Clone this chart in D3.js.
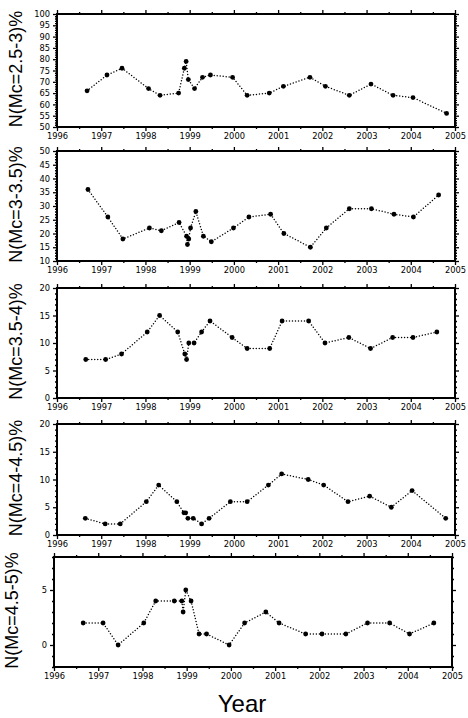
<!DOCTYPE html>
<html>
<head>
<meta charset="utf-8">
<script src="https://cdn.jsdelivr.net/npm/d3@7"></script>
<style>
  body { margin: 0; background: #fff; }
  .tick text { font-family: "DejaVu Sans", sans-serif; font-size: 8.3px; fill: #000; }
</style>
</head>
<body>
<div id="wrapper"></div>
<script>
// 0. Data (decimal year, percent)
const years = [1996, 1997, 1998, 1999, 2000, 2001, 2002, 2003, 2004, 2005]

const dates1 = [1996.68, 1997.13, 1997.47, 1998.07, 1998.33, 1998.75, 1998.88, 1998.92, 1998.97, 1999.11, 1999.29, 1999.47,
  1999.97, 2000.30, 2000.80, 2001.12, 2001.72, 2002.07, 2002.61, 2003.10, 2003.60, 2004.05, 2004.81]
const n25_3 = [66, 73, 76, 67, 64, 65, 76, 79, 71, 67, 72, 73, 72, 64, 65, 68, 72, 68, 64, 69, 64, 63, 56]

const dates2 = [1996.70, 1997.15, 1997.49, 1998.09, 1998.36, 1998.76, 1998.93, 1998.95, 1998.98, 1999.02, 1999.14, 1999.31,
  1999.49, 1999.99, 2000.34, 2000.83, 2001.13, 2001.73, 2002.09, 2002.61, 2003.11, 2003.62, 2004.06, 2004.63]
const n3_35 = [36, 26, 18, 22, 21, 24, 19, 16, 18, 22, 28, 19, 17, 22, 26, 27, 20, 15, 22, 29, 29, 27, 26, 34]

const dates3 = [1996.65, 1997.10, 1997.46, 1998.04, 1998.32, 1998.73, 1998.89, 1998.93, 1998.98, 1999.10, 1999.27, 1999.46,
  1999.96, 2000.30, 2000.81, 2001.09, 2001.69, 2002.06, 2002.60, 2003.09, 2003.59, 2004.05, 2004.59]
const n35_4 = [7, 7, 8, 12, 15, 12, 8, 7, 10, 10, 12, 14, 11, 9, 9, 14, 14, 10, 11, 9, 11, 11, 12]

const dates4 = [1996.64, 1997.09, 1997.43, 1998.02, 1998.30, 1998.71, 1998.87, 1998.91, 1998.96, 1999.08, 1999.27, 1999.44,
  1999.92, 2000.30, 2000.78, 2001.08, 2001.68, 2002.03, 2002.58, 2003.07, 2003.56, 2004.03, 2004.79]
const n4_45 = [3, 2, 2, 6, 9, 6, 4, 4, 3, 3, 2, 3, 6, 6, 9, 11, 10, 9, 6, 7, 5, 8, 3]

const dates5 = [1996.66, 1997.11, 1997.45, 1998.03, 1998.30, 1998.72, 1998.89, 1998.92, 1998.98, 1999.10, 1999.28, 1999.45,
  1999.96, 2000.31, 2000.79, 2001.09, 2001.69, 2002.06, 2002.60, 2003.09, 2003.59, 2004.04, 2004.59]
const n45_5 = [2, 2, 0, 2, 4, 4, 4, 3, 5, 4, 1, 1, 0, 2, 3, 2, 1, 1, 1, 2, 2, 1, 2]

const titles = ["N(Mc=2.5-3)%", "N(Mc=3-3.5)%", "N(Mc=3.5-4)%", "N(Mc=4-4.5)%", "N(Mc=4.5-5)%"]
const yDomains = [[50, 100], [10, 50], [0, 20], [0, 20], [-2, 8]]
const yTicks = [d3.range(50, 101, 5), d3.range(10, 51, 5), [0, 5, 10, 15, 20], [0, 5, 10, 15, 20], [0, 5]]

// layout of the five frames
const frames = [
  { left: 57, right: 455, top: 14, bottom: 127, titleX: 22 },
  { left: 57, right: 455, top: 151, bottom: 261, titleX: 22 },
  { left: 57, right: 455, top: 288, bottom: 398, titleX: 22 },
  { left: 57, right: 455, top: 424, bottom: 535, titleX: 22 },
  { left: 54, right: 452, top: 557, bottom: 667, titleX: 18 },
]

const panels = [
  { dates: dates1, values: n25_3 },
  { dates: dates2, values: n3_35 },
  { dates: dates3, values: n35_4 },
  { dates: dates4, values: n4_45 },
  { dates: dates5, values: n45_5 },
]

const svg = d3.select("#wrapper").append("svg")
  .attr("width", 468)
  .attr("height", 718)

panels.forEach((p, i) => {
  const f = frames[i]
  const [lo, hi] = yDomains[i]

  const xScale = d3.scaleLinear().domain([1996, 2005]).range([f.left, f.right])
  const yScale = d3.scaleLinear().domain(yDomains[i]).range([f.bottom, f.top])

  const halfYears = d3.range(1996.5, 2005, 1)
  const minorY = d3.range(Math.ceil(lo), hi + 0.001, 1).filter(v => !yTicks[i].includes(v))

  const g = svg.append("g")

  // minor ticks, all four sides
  const minor = [
    [d3.axisBottom(xScale).tickValues(halfYears), `translate(0,${f.bottom})`],
    [d3.axisTop(xScale).tickValues(halfYears), `translate(0,${f.top})`],
    [d3.axisLeft(yScale).tickValues(minorY), `translate(${f.left},0)`],
    [d3.axisRight(yScale).tickValues(minorY), `translate(${f.right},0)`],
  ]
  minor.forEach(([ax, tr]) => {
    g.append("g").attr("transform", tr)
      .call(ax.tickSize(2).tickFormat(""))
      .call(s => s.select(".domain").remove())
      .selectAll("line").attr("stroke-width", 1)
  })

  // major ticks
  g.append("g").attr("transform", `translate(0,${f.bottom})`)
    .call(d3.axisBottom(xScale).tickValues(years).tickSize(4).tickPadding(2).tickFormat(d3.format("d")))
  g.append("g").attr("transform", `translate(0,${f.top})`)
    .call(d3.axisTop(xScale).tickValues(years).tickSize(4).tickFormat(""))
  g.append("g").attr("transform", `translate(${f.left},0)`)
    .call(d3.axisLeft(yScale).tickValues(yTicks[i]).tickSize(4).tickPadding(3))
  g.append("g").attr("transform", `translate(${f.right},0)`)
    .call(d3.axisRight(yScale).tickValues(yTicks[i]).tickSize(4).tickFormat(""))
  g.selectAll(".domain").remove()
  g.selectAll(".tick line").attr("stroke-width", 1.3)

  // frame
  g.append("rect")
    .attr("x", f.left)
    .attr("y", f.top)
    .attr("width", f.right - f.left)
    .attr("height", f.bottom - f.top)
    .attr("fill", "none")
    .attr("stroke", "#000")
    .attr("stroke-width", 2)

  // dotted line + dots
  const pts = p.dates.map((d, k) => ({ x: d, y: p.values[k] }))
  const lineGenerator = d3.line()
    .x(d => xScale(d.x))
    .y(d => yScale(d.y))

  g.append("path")
    .attr("d", lineGenerator(pts))
    .attr("fill", "none")
    .attr("stroke", "#000")
    .attr("stroke-width", 1.5)
    .attr("stroke-linecap", "round")
    .attr("stroke-dasharray", "0,3")

  g.selectAll("circle")
    .data(pts)
    .enter().append("circle")
      .attr("cx", d => xScale(d.x))
      .attr("cy", d => yScale(d.y))
      .attr("r", 2.4)
      .attr("fill", "#000")

  // y title
  const cy = (f.top + f.bottom) / 2 - 1.5
  g.append("text")
    .attr("transform", `translate(${f.titleX},${cy}) rotate(-90)`)
    .attr("text-anchor", "middle")
    .style("font-family", "'Liberation Sans', Arial, sans-serif")
    .style("font-size", "18px")
    .text(titles[i])
})

svg.append("text")
  .attr("x", 242)
  .attr("y", 712)
  .attr("text-anchor", "middle")
  .style("font-family", "'Liberation Sans', Arial, sans-serif")
  .style("font-size", "24px")
  .text("Year")
</script>
</body>
</html>
